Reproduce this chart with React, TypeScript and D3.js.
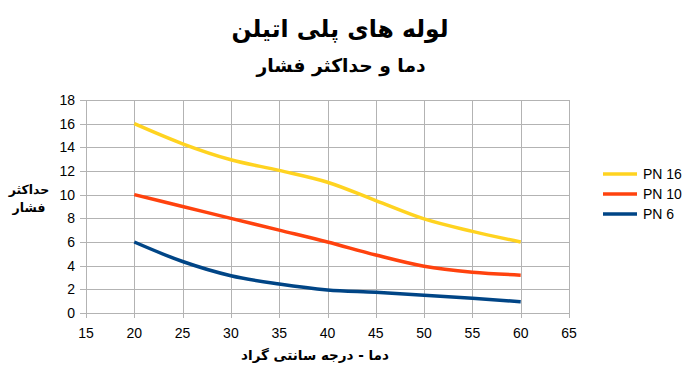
import * as d3 from 'd3'

const temps = [20, 25, 30, 35, 40, 45, 50, 55, 60]
const pn16 = [16, 14.3, 12.95, 12.05, 11.05, 9.5, 7.95, 6.9, 6.0]
const pn10 = [10, 9.0, 8.0, 7.0, 6.0, 4.9, 3.95, 3.45, 3.2]
const pn6 = [6, 4.35, 3.15, 2.45, 1.95, 1.75, 1.5, 1.25, 0.95]

const seriesNames = ['PN 16', 'PN 10', 'PN 6']
const seriesColors = ['#ffd320', '#ff420e', '#004586']
const seriesValues = [pn16, pn10, pn6]

const xTickValues = [15, 20, 25, 30, 35, 40, 45, 50, 55, 60, 65]
const yTickValues = [0, 2, 4, 6, 8, 10, 12, 14, 16, 18]

const title = 'لوله های پلی اتیلن'
const subtitle = 'دما و حداکثر فشار'
const xTitle = 'دما - درجه سانتی گراد'
const yTitle = ['حداکثر', 'فشار']

export default function App() {
  const width = 700
  const height = 368
  const plot = { left: 86, right: 569, top: 100, bottom: 313 }

  const x = d3.scaleLinear().domain([15, 65]).range([plot.left, plot.right])
  const y = d3.scaleLinear().domain([0, 18]).range([plot.bottom, plot.top])

  const line = d3
    .line<number>()
    .x((_, i) => x(temps[i]))
    .y((d) => y(d))
    .curve(d3.curveMonotoneX)

  const persian = '"DejaVu Sans", sans-serif'

  return (
    <svg
      width={width}
      height={height}
      style={{ position: 'absolute', left: 0, top: 0, background: '#fff' }}
      fontFamily='"Liberation Sans", Arial, sans-serif'
    >
      <rect width={width} height={height} fill="#fff" />
      <text x={340} y={37} textAnchor="middle" fontFamily={persian} fontWeight="bold" fontSize={23.5} direction="rtl">
        {title}
      </text>
      <text x={341} y={72} textAnchor="middle" fontFamily={persian} fontWeight="bold" fontSize={18.7} direction="rtl">
        {subtitle}
      </text>

      {/* grid */}
      <g stroke="#b3b3b3" strokeWidth={1}>
        {yTickValues.map((v) => (
          <line key={'h' + v} x1={plot.left - 6} x2={plot.right} y1={Math.round(y(v)) + 0.5} y2={Math.round(y(v)) + 0.5} />
        ))}
        {xTickValues.map((v) => (
          <line key={'v' + v} x1={Math.round(x(v)) + 0.5} x2={Math.round(x(v)) + 0.5} y1={plot.top} y2={plot.bottom + 5} />
        ))}
      </g>

      {/* y ticks */}
      <g textAnchor="end" fontSize={14} fill="#000">
        {yTickValues.map((v) => (
          <text key={v} x={plot.left - 11} y={y(v)} dy="0.35em">
            {v}
          </text>
        ))}
      </g>
      {/* x ticks */}
      <g textAnchor="middle" fontSize={14} fill="#000">
        {xTickValues.map((v) => (
          <text key={v} x={x(v)} y={plot.bottom + 25}>
            {v}
          </text>
        ))}
      </g>

      {/* series */}
      {seriesValues.map((vals, i) => (
        <path key={seriesNames[i]} d={line(vals)!} fill="none" stroke={seriesColors[i]} strokeWidth={3.5} strokeLinejoin="round" />
      ))}

      {/* axis titles */}
      <text x={315} y={360} textAnchor="middle" fontFamily={persian} fontWeight="bold" fontSize={13.5} direction="rtl">
        {xTitle}
      </text>
      <g textAnchor="middle" fontFamily={persian} fontWeight="bold" fontSize={12.5}>
        {yTitle.map((t, i) => (
          <text key={t} x={29} y={194 + i * 18} direction="rtl">
            {t}
          </text>
        ))}
      </g>

      {/* legend */}
      {seriesNames.map((n, i) => (
        <g key={n} transform={`translate(603, ${174 + i * 20})`}>
          <line x1={0} x2={34} stroke={seriesColors[i]} strokeWidth={3.5} />
          <text x={40} dy="0.35em" fontSize={14} fill="#000">
            {n}
          </text>
        </g>
      ))}
    </svg>
  )
}
